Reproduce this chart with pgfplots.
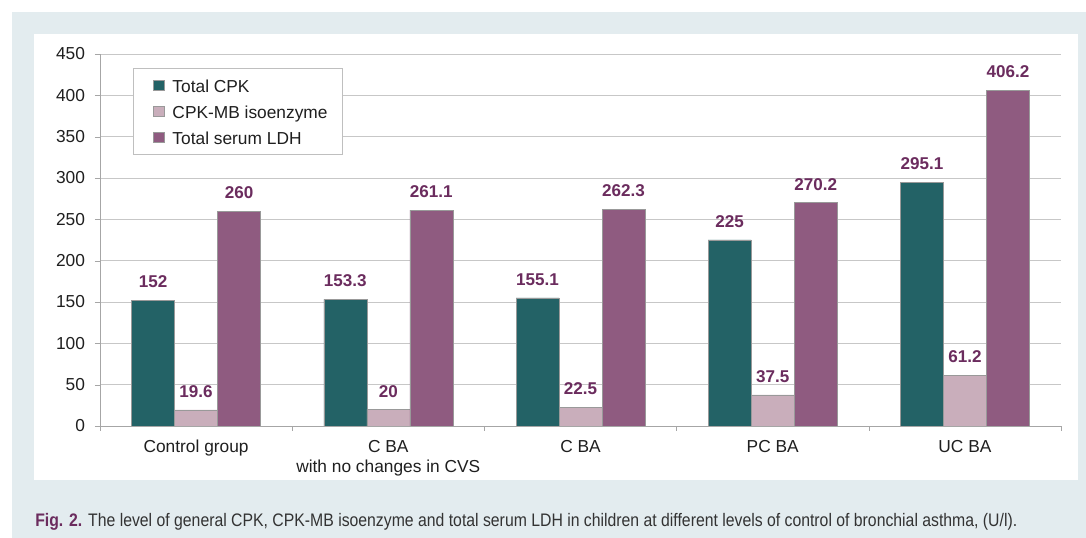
\documentclass[border=0pt]{standalone}
\usepackage{pgfplots}
\pgfplotsset{compat=1.18}
\usepackage{fontspec}
\setmainfont{Liberation Sans}
\definecolor{bgpanel}{HTML}{E3ECEF}
\definecolor{cteal}{HTML}{236266}
\definecolor{cpink}{HTML}{C9AEBB}
\definecolor{cpurp}{HTML}{8F5B80}
\definecolor{clab}{HTML}{6B2C5E}
\definecolor{ctext}{HTML}{1F1F1F}
\definecolor{ccap}{HTML}{333333}
\begin{document}
\begin{tikzpicture}
\fill[white] (0pt,0pt) rectangle (814.5pt,403.5pt);
\fill[bgpanel] (9pt,0pt) rectangle (814.5pt,394.5pt);
\fill[white] (25.5pt,43.5pt) rectangle (808.5pt,378pt);
\node[anchor=base west, inner sep=0pt, text=ccap] at (26.25pt,8.25pt) {\resizebox{736.5pt}{\height}{\fontsize{13.6}{16}\selectfont\textcolor{clab}{\textbf{Fig. 2.}} The level of general CPK, CPK-MB isoenzyme and total serum LDH in children at different levels of control of bronchial asthma, (U/l).}};
\begin{axis}[
  at={(75pt,84pt)}, anchor=south west, scale only axis,
  width=720.75pt, height=279pt,
  /pgf/number format/assume math mode=true,
  ybar=0pt, bar width=32.25pt,
  xmin=-0.5, xmax=4.5, ymin=0, ymax=450,
  ytick={0,50,...,450},
  xtick={0,...,4},
  xticklabels={Control group,{C BA\\with no changes in CVS},C BA,PC BA,UC BA},
  minor xtick={-0.5,0.5,...,4.5},
  major x tick style={draw=none},
  axis x line*=bottom, axis y line*=left,
  axis line style={draw=black!35},
  tick style={draw=black!35},
  tick align=outside, major tick length=3.75pt, minor tick length=3.75pt,
  ymajorgrids, grid style={draw=black!22},
  ticklabel style={font=\fontsize{13}{15}\selectfont, text=ctext},
  yticklabel style={xshift=-4pt},
  xticklabel style={align=center, yshift=-3.5pt},
  nodes near coords,
  every node near coord/.append style={font=\fontsize{12.8}{15}\selectfont\bfseries, text=clab, anchor=south, inner sep=0pt, yshift=9pt},
  legend image code/.code={\pgfpathmoveto{\pgfqpoint{-4pt}{0pt}}\pgfusepath{discard}\draw[#1] (0pt,-4.1pt) rectangle (8.25pt,4.1pt);},
  legend cell align=left,
  legend style={at={(0.0343,0.9624)}, anchor=north west, draw=black!25, fill=white,
    font=\fontsize{13}{15}\selectfont, text=ctext,
    inner xsep=11pt, inner ysep=5.5pt, row sep=5pt,
    /tikz/every odd column/.append style={column sep=6pt},
    nodes={inner sep=0pt, text height=12.5pt, text depth=2pt}},
]
\addplot[fill=cteal, draw=black!40] coordinates {(0,152) (1,153.3) (2,155.1) (3,225) (4,295.1)};
\addplot[fill=cpink, draw=black!40] coordinates {(0,19.6) (1,20) (2,22.5) (3,37.5) (4,61.2)};
\addplot[fill=cpurp, draw=black!40] coordinates {(0,260) (1,261.1) (2,262.3) (3,270.2) (4,406.2)};
\legend{Total CPK, CPK-MB isoenzyme, Total serum LDH}
\end{axis}
\end{tikzpicture}
\end{document}
